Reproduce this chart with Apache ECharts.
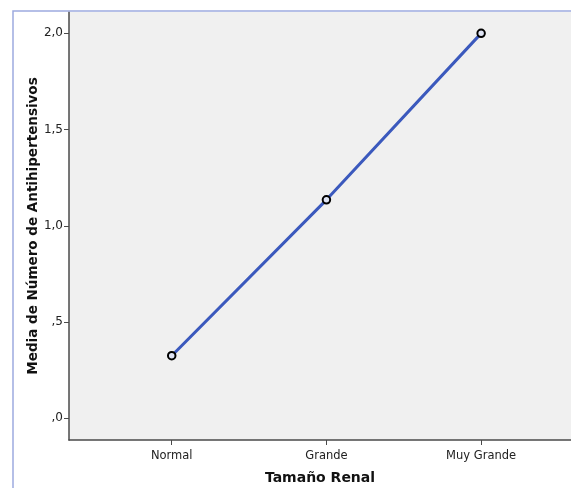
<!DOCTYPE html>
<html>
<head>
<meta charset="utf-8">
<script src="https://cdn.jsdelivr.net/npm/echarts@6/dist/echarts.min.js"></script>
<style>html,body{margin:0;padding:0;background:#fff;}#c{width:571px;height:488px;}</style>
</head>
<body>
<div id="c"></div>
<script>
var categories = ['Normal', 'Grande', 'Muy Grande'];
var values = [0.325, 1.135, 2.0];
var yTicks = [0, 0.5, 1, 1.5, 2];
var yTickLabels = [',0', ',5', '1,0', '1,5', '2,0'];

var chart = echarts.init(document.getElementById('c'));
var FONT = 'DejaVu Sans';
chart.setOption({
  animation: false,
  backgroundColor: '#ffffff',
  graphic: [{
    type: 'rect', silent: true, z: 100,
    shape: { x: 13, y: 11, width: 700, height: 600 },
    style: { fill: 'none', stroke: '#9dabdf', lineWidth: 1.5 }
  }],
  grid: { left: 69, top: 12, right: 0, bottom: 48, backgroundColor: '#f0f0f0', show: true, borderWidth: 0, outerBoundsMode: 'none', containLabel: false },
  xAxis: {
    type: 'value',
    min: -0.664, max: 2.581,
    splitLine: { show: false },
    axisLine: { show: true, onZero: false, lineStyle: { color: '#4a4a4a', width: 1.5 } },
    axisTick: { show: true, length: 5, customValues: [0, 1, 2], lineStyle: { color: '#4a4a4a' } },
    axisLabel: {
      customValues: [0, 1, 2],
      formatter: function (v) { return categories[Math.round(v)] || ''; },
      color: '#222', fontFamily: FONT, fontSize: 11.5, margin: 10
    },
    name: 'Tamaño Renal', nameLocation: 'middle', nameGap: 31, nameMoveOverlap: false,
    nameTextStyle: { fontFamily: FONT, fontWeight: 'bold', fontSize: 14, color: '#111' }
  },
  yAxis: {
    type: 'value',
    min: -0.113, max: 2.111,
    splitLine: { show: false },
    axisLine: { show: true, onZero: false, lineStyle: { color: '#4a4a4a', width: 1.5 } },
    axisTick: { show: true, length: 5, customValues: yTicks, lineStyle: { color: '#4a4a4a' } },
    axisLabel: {
      customValues: yTicks,
      formatter: function (v) {
        var i = yTicks.indexOf(Math.round(v * 10) / 10);
        return i >= 0 ? yTickLabels[i] : '';
      },
      color: '#222', fontFamily: FONT, fontSize: 12, margin: 6
    },
    name: 'Media de Número de Antihipertensivos', nameLocation: 'middle', nameGap: 29, nameMoveOverlap: false,
    nameTextStyle: { fontFamily: FONT, fontWeight: 'bold', fontSize: 13.5, color: '#111' }
  },
  series: [{
    type: 'line',
    data: values.map(function (v, i) { return [i, v]; }),
    symbol: 'circle', symbolSize: 7.5,
    lineStyle: { color: '#3b59bd', width: 3 },
    itemStyle: { color: '#dfe4f4', borderColor: '#000', borderWidth: 2 }
  }]
});
</script>
</body>
</html>
